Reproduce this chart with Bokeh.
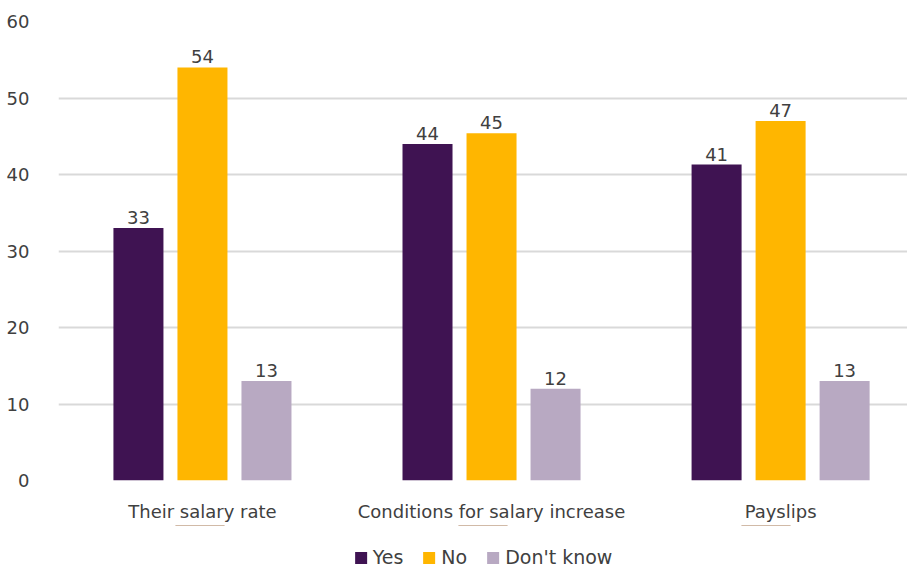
import numpy as np
from bokeh.plotting import figure
from bokeh.layouts import column
from bokeh.models import ColumnDataSource, Range1d, FixedTicker, Legend, LegendItem
from bokeh.transform import dodge
from bokeh.core.properties import value
from bokeh.embed import file_html
from bokeh.resources import INLINE

categories = ["Their salary rate", "Conditions for salary increase", "Payslips"]
series_names = ["Yes", "No", "Don't know"]
yes_vals = [33, 44, 41.3]
no_vals = [54, 45.4, 47]
dk_vals = [13, 12, 13]
y_ticks = [0, 10, 20, 30, 40, 50, 60]

colors = ["#3F1352", "#FFB600", "#B8A9C2"]
FONT = "DejaVu Sans"
TXT = "#404040"

x = np.arange(len(categories))
src = ColumnDataSource(dict(
    x=x, yes=yes_vals, no=no_vals, dk=dk_vals,
    yes_l=[f"{round(v)}" for v in yes_vals],
    no_l=[f"{round(v)}" for v in no_vals],
    dk_l=[f"{round(v)}" for v in dk_vals],
))

p = figure(width=907, height=525, output_backend="svg", toolbar_location=None,
           x_range=Range1d(-0.498, 2.439), y_range=Range1d(0, 60),
           min_border_left=58, min_border_right=0, min_border_top=21, min_border_bottom=45)
p.outline_line_color = None
p.background_fill_color = "white"
p.border_fill_color = "white"

offset = 64 / 289
width = 50 / 289
cols = ["yes", "no", "dk"]
for i, (c, col) in enumerate(zip(cols, colors)):
    dx = (i - 1) * offset
    p.vbar(x=dodge("x", dx), top=c, width=width, source=src,
           fill_color=col, line_color=None)
    p.text(x=dodge("x", dx), y=c, text=c + "_l", source=src,
           text_align="center", text_baseline="bottom", y_offset=-4,
           text_font=value(FONT), text_font_size="18px", text_color=TXT)

p.xgrid.grid_line_color = None
p.ygrid.grid_line_color = "#D9D9D9"
p.ygrid.grid_line_width = 2

p.yaxis.ticker = FixedTicker(ticks=y_ticks)
p.xaxis.ticker = FixedTicker(ticks=list(x))
p.xaxis.major_label_overrides = {int(i): c for i, c in zip(x, categories)}

for ax in (p.xaxis, p.yaxis):
    ax.axis_line_color = None
    ax.major_tick_line_color = None
    ax.minor_tick_line_color = None
    ax.major_label_text_font = FONT
    ax.major_label_text_font_size = "18px"
    ax.major_label_text_color = TXT
p.yaxis.major_label_standoff = 23
p.xaxis.major_label_standoff = 14

# legend strip: same series, y range chosen so the bars fall outside the strip
p2 = figure(width=907, height=43, output_backend="svg", toolbar_location=None,
            x_range=Range1d(-0.5, 2.5), y_range=Range1d(-2, -1), min_border=0)
p2.axis.visible = False
p2.grid.visible = False
p2.outline_line_color = None
p2.background_fill_color = "white"
p2.border_fill_color = "white"
items = []
for n, c, col in zip(series_names, cols, colors):
    r = p2.vbar(x="x", top=c, width=width, source=src, fill_color=col, line_color=None)
    items.append(LegendItem(label=n, renderers=[r]))
legend = Legend(items=items, orientation="horizontal", location="bottom_center",
                glyph_width=15, glyph_height=15, label_standoff=5, spacing=18,
                label_text_font=FONT, label_text_font_size="19px", label_text_color=TXT,
                border_line_color=None, background_fill_alpha=0, padding=0, margin=0)
p2.add_layout(legend, "center")

layout = column(p, p2, spacing=0)
open("out.html", "w").write(file_html(layout, INLINE))
